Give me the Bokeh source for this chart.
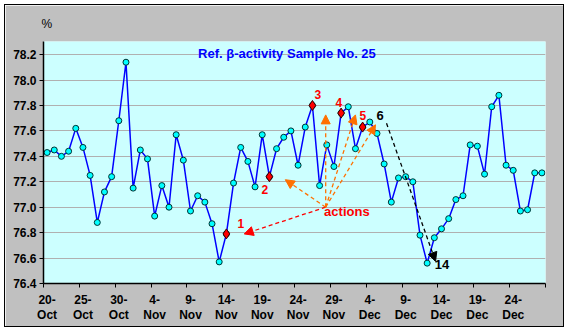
from bokeh.plotting import figure
from bokeh.models import (Range1d, FixedTicker, Label, Arrow, NormalHead,
                          PrintfTickFormatter, Title)
from bokeh.embed import file_html
from bokeh.resources import INLINE

# ---- data (daily values, 20 Oct .. 28 Dec) ----
values = [77.43, 77.45, 77.40, 77.44, 77.62, 77.47, 77.25, 76.88, 77.12, 77.24,
          77.68, 78.14, 77.15, 77.45, 77.38, 76.93, 77.17, 77.00, 77.57, 77.37,
          76.97, 77.09, 77.04, 76.87, 76.57, 76.79, 77.19, 77.47, 77.36, 77.16,
          77.57, 77.24, 77.46, 77.55, 77.60, 77.33, 77.63, 77.80, 77.17, 77.49,
          77.32, 77.74, 77.79, 77.46, 77.63, 77.67, 77.58, 77.34, 77.04, 77.23,
          77.24, 77.20, 76.78, 76.56, 76.76, 76.83, 76.91, 77.06, 77.09, 77.49,
          77.48, 77.26, 77.79, 77.88, 77.33, 77.29, 76.97, 76.98, 77.27, 77.27]
highlight_idx = [25, 31, 37, 41, 44]
x_tick_labels = ["20-\nOct", "25-\nOct", "30-\nOct", "4-\nNov", "9-\nNov", "14-\nNov",
                 "19-\nNov", "24-\nNov", "29-\nNov", "4-\nDec", "9-\nDec", "14-\nDec",
                 "19-\nDec", "24-\nDec"]
y_ticks = [76.4, 76.6, 76.8, 77.0, 77.2, 77.4, 77.6, 77.8, 78.0, 78.2]
title_text = "Ref. \u03b2-activity Sample No. 25"

FONT = "Liberation Sans"
n = len(values)
xs = list(range(n))

p = figure(width=560, height=323, output_backend="svg", toolbar_location=None,
           x_range=Range1d(-0.5, n - 0.5), y_range=Range1d(76.4, 78.303),
           min_border_left=38, min_border_right=20, min_border_top=36, min_border_bottom=45,
           background_fill_color="#CCFFFF", border_fill_color="#C0C0C0",
           margin=(4, 0, 0, 4), styles={"border": "1px solid black"})
p.outline_line_color = None

# "%" unit label above the y axis
p.add_layout(Title(text="%", align="left", vertical_align="top", text_font=FONT,
                   text_font_size="12px", text_font_style="normal", text_color="black",
                   offset=-2, standoff=17), "above")

# y axis
p.yaxis.ticker = FixedTicker(ticks=y_ticks)
p.yaxis.formatter = PrintfTickFormatter(format="%.1f")
p.yaxis.major_label_text_font = FONT
p.yaxis.major_label_text_font_style = "bold"
p.yaxis.major_label_text_font_size = "12px"
p.yaxis.major_label_text_color = "black"
p.yaxis.major_tick_in = 0
p.yaxis.major_tick_out = 4
p.yaxis.minor_tick_line_color = None
p.yaxis.axis_line_width = 1.5
p.yaxis.major_label_standoff = 3

# x axis: labels at category centers, tick marks at category boundaries (minor ticks)
lab_ticks = list(range(0, n, 5))
p.xaxis.ticker = FixedTicker(ticks=lab_ticks,
                             minor_ticks=[k - 0.5 for k in range(0, n + 1, 5)])
p.xaxis.major_label_overrides = {t: s for t, s in zip(lab_ticks, x_tick_labels)}
p.xaxis.major_tick_line_color = None
p.xaxis.major_tick_in = 0
p.xaxis.major_tick_out = 0
p.xaxis.minor_tick_line_color = "black"
p.xaxis.minor_tick_line_width = 1
p.xaxis.minor_tick_in = 0
p.xaxis.minor_tick_out = 4
p.xaxis.axis_line_width = 1.5
p.xaxis.major_label_text_font = FONT
p.xaxis.major_label_text_font_style = "bold"
p.xaxis.major_label_text_font_size = "12px"
p.xaxis.major_label_text_color = "black"
p.xaxis.major_label_text_line_height = 1.1
p.xaxis.major_label_standoff = 5

p.xgrid.visible = False
p.ygrid.grid_line_color = "#B0B0B0"
p.ygrid.grid_line_width = 1

# series
p.line(xs, values, line_color="#0000FF", line_width=1.5)
p.scatter(xs, values, marker="circle", size=6, fill_color="#00FFFF", line_color="#003333", line_width=1)
hx = [xs[i] for i in highlight_idx]
hy = [values[i] for i in highlight_idx]
p.scatter(hx, hy, marker="diamond", size=10, fill_color="#FF0000", line_color="#330000", line_width=1)

# texts
def lab(x, y, text, color, size, bold=True, align="center"):
    p.add_layout(Label(x=x, y=y, text=text, text_color=color, text_font=FONT,
                       text_font_size=size, text_font_style="bold" if bold else "normal",
                       text_align=align, text_baseline="middle"))

lab(33.45, 78.21, title_text, "#0000FF", "13px")
lab(27.03, 76.87, "1", "#FF0000", "12px")
lab(30.38, 77.14, "2", "#FF0000", "12px")
lab(37.74, 77.89, "3", "#FF0000", "12px")
lab(40.68, 77.82, "4", "#FF0000", "12px")
lab(44.03, 77.72, "5", "#FF0000", "12px")
lab(46.45, 77.72, "6", "black", "13px")
lab(55.07, 76.55, "14", "black", "13px")
lab(41.8, 76.97, "actions", "#FF0000", "13px")

# arrows
ox, oy = 38.85, 77.0
arrows = [
    (ox, oy, 27.49, 76.79, "#FF0000"),
    (ox, oy, 33.22, 77.216, "#FF7000"),
    (ox, oy, 38.85, 77.726, "#FF7000"),
    (ox, oy, 43.0, 77.726, "#FF7000"),
    (ox, oy, 45.79, 77.648, "#FF7000"),
    (47.33, 77.66, 54.17, 76.574, "#000000"),
]
for x0, y0, x1, y1, c in arrows:
    p.add_layout(Arrow(x_start=x0, y_start=y0, x_end=x1, y_end=y1,
                       line_color=c, line_width=1.3, line_dash="4 3",
                       end=NormalHead(size=9, fill_color=c, line_color=c, line_width=1)))

open("out.html", "w").write(file_html(p, INLINE))
